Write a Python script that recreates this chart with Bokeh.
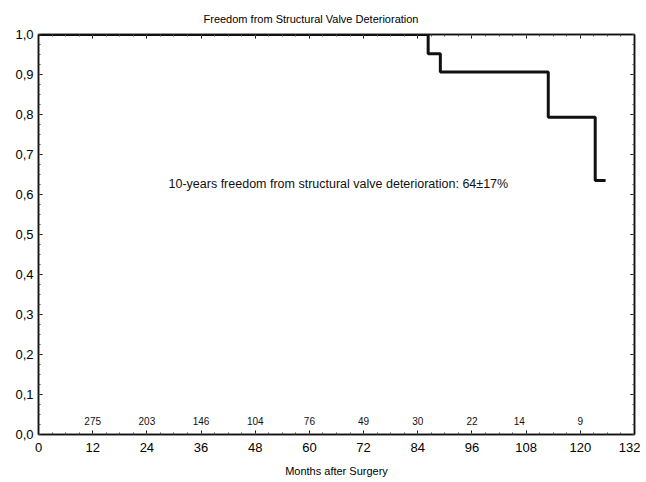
from bokeh.plotting import figure
from bokeh.models import (LinearAxis, FixedTicker, CustomJSTickFormatter, Range1d, ColumnDataSource)
from bokeh.core.properties import value
from bokeh.embed import file_html
from bokeh.resources import INLINE

# Kaplan-Meier step curve (months, freedom)
km_time = [0, 86.3, 89.0, 112.9, 123.3, 125.6]
km_surv = [1.0, 0.952, 0.906, 0.793, 0.635, 0.635]

# patients at risk
risk_month = [12, 24, 36, 48, 60, 72, 84, 96, 106.5, 120]
risk_count = ["275", "203", "146", "104", "76", "49", "30", "22", "14", "9"]
risk_level = 0.035

x_ticks = [0, 12, 24, 36, 48, 60, 72, 84, 96, 108, 120, 132]
y_ticks = [0.0, 0.1, 0.2, 0.3, 0.4, 0.5, 0.6, 0.7, 0.8, 0.9, 1.0]

note_text = "10-years freedom from structural valve deterioration: 64\u00b117%"
note_x = 28.8
note_y = 0.627

FONT = "Liberation Sans"

p = figure(width=640, height=482, output_backend="svg", toolbar_location=None,
           x_range=Range1d(0, 132), y_range=Range1d(0, 1.0),
           min_border_left=38, min_border_right=6, min_border_top=34, min_border_bottom=48,
           x_axis_type=None, y_axis_type=None)
p.title.text = "Freedom from Structural Valve Deterioration"
p.title.align = "left"
p.title.offset = 165
p.title.standoff = 20
p.title.text_font = FONT
p.title.text_font_size = "11px"
p.title.text_font_style = "normal"
p.title.text_color = "#000000"

p.grid.visible = False
p.outline_line_color = "#111111"
p.outline_line_width = 1.5
p.background_fill_color = "white"
p.border_fill_color = "white"

fmt = CustomJSTickFormatter(code="return tick.toFixed(1).replace('.', ',');")
blank = CustomJSTickFormatter(code="return '';")

def style(ax):
    ax.axis_line_color = "#111111"
    ax.axis_line_width = 1.5
    ax.major_tick_in = 4
    ax.major_tick_out = 0
    ax.minor_tick_in = 2
    ax.minor_tick_out = 0
    ax.major_tick_line_color = "#111111"
    ax.minor_tick_line_color = "#444444"
    ax.major_label_text_font = FONT
    ax.major_label_text_font_size = "13px"
    ax.major_label_text_color = "#000000"

xb = LinearAxis(ticker=FixedTicker(ticks=x_ticks, minor_ticks=list(range(0, 133, 3))))
xb.axis_label = "Months after Surgery"
xb.axis_label_text_font = FONT
xb.axis_label_text_font_size = "11px"
xb.axis_label_text_font_style = "normal"
xb.axis_label_text_color = "#000000"
xb.axis_label_standoff = 10
style(xb)
xb.major_label_standoff = 8
p.add_layout(xb, "below")

yl = LinearAxis(ticker=FixedTicker(ticks=y_ticks, minor_ticks=[i / 40 for i in range(41)]), formatter=fmt)
style(yl)
yl.major_label_standoff = 5
p.add_layout(yl, "left")

xt = LinearAxis(ticker=FixedTicker(ticks=x_ticks, minor_ticks=list(range(0, 133, 3))), formatter=blank)
style(xt)
xt.major_label_standoff = 0
p.add_layout(xt, "above")

yr = LinearAxis(ticker=FixedTicker(ticks=y_ticks, minor_ticks=[i / 40 for i in range(41)]), formatter=blank)
style(yr)
yr.major_label_standoff = 0
p.add_layout(yr, "right")

p.step(x=km_time, y=km_surv, mode="after", line_color="#111111", line_width=3)

src = ColumnDataSource(dict(x=risk_month, y=[risk_level] * len(risk_month), t=risk_count))
p.text(x="x", y="y", text="t", source=src, text_align="center", text_baseline="middle",
       text_font=value(FONT), text_font_size="10px", text_color="#111111")

p.text(x=[note_x], y=[note_y], text=[note_text], text_align="left", text_baseline="middle",
       text_font=value(FONT), text_font_size="12.5px", text_color="#111111")

open("out.html", "w").write(file_html(p, INLINE))
